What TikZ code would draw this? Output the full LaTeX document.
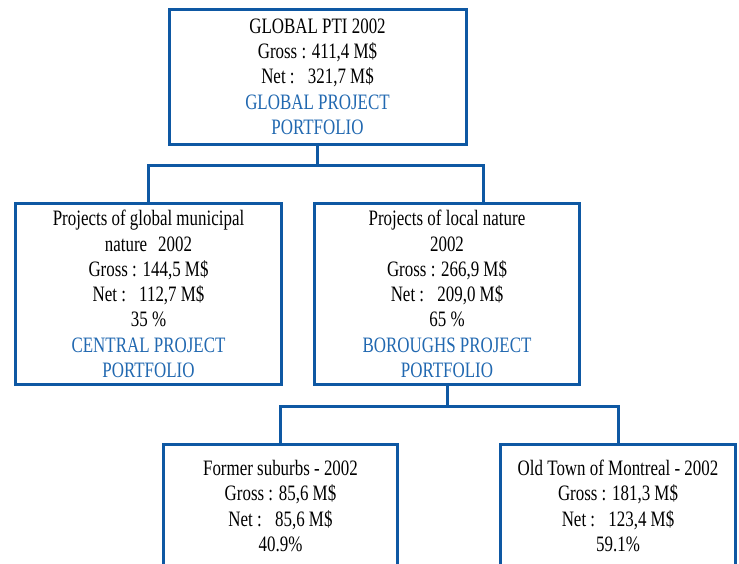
\documentclass[tikz,border=0pt]{standalone}
\usepackage{fontspec}
\setmainfont{Liberation Serif}[FakeStretch=0.77]
\definecolor{boxblue}{RGB}{14,88,163}
\definecolor{txtblue}{RGB}{33,104,176}
\begin{document}
\begin{tikzpicture}[x=1pt,y=-1pt,
  box/.style={draw=boxblue, line width=3pt, align=center, inner sep=0pt, outer sep=0pt,
              font=\fontsize{22}{25.3}\selectfont},
  link/.style={draw=boxblue, line width=3pt}]
\useasboundingbox (0,0) rectangle (739,563);
\clip (0,0) rectangle (739,563);

\node[box, minimum width=297pt, minimum height=135pt] (top) at (317.5,76.5)
  {GLOBAL PTI 2002\\Gross : 411,4 M\$\\Net :\hspace{0.6em}321,7 M\$\\
   \textcolor{txtblue}{GLOBAL PROJECT}\\\textcolor{txtblue}{PORTFOLIO}};

\node[box, minimum width=266pt, minimum height=181pt] (ml) at (148.5,294)
  {Projects of global municipal\\nature\hspace{0.5em}2002\\Gross : 144,5 M\$\\Net :\hspace{0.6em}112,7 M\$\\35 \%\\
   \textcolor{txtblue}{CENTRAL PROJECT}\\\textcolor{txtblue}{PORTFOLIO}};

\node[box, minimum width=265pt, minimum height=181pt] (mr) at (447,294)
  {Projects of local nature\\2002\\Gross : 266,9 M\$\\Net :\hspace{0.6em}209,0 M\$\\65 \%\\
   \textcolor{txtblue}{BOROUGHS PROJECT}\\\textcolor{txtblue}{PORTFOLIO}};

\node[box, minimum width=234pt, minimum height=123pt] (bl) at (280.5,506)
  {Former suburbs - 2002\\Gross : 85,6 M\$\\Net :\hspace{0.6em}85,6 M\$\\40.9\%};

\node[box, minimum width=235pt, minimum height=123pt] (br) at (618,506)
  {Old Town of Montreal - 2002\\Gross : 181,3 M\$\\Net :\hspace{0.6em}123,4 M\$\\59.1\%};

\coordinate (j1) at (317.5,165);
\coordinate (j2) at (447,406);

\draw[link] (top.south) -- (j1);
\draw[link] (ml.north) |- (j1) -| ([xshift=36pt]mr.north);
\draw[link] (mr.south) -- (j2);
\draw[link] (bl.north) |- (j2) -| (br.north);
\end{tikzpicture}
\end{document}
